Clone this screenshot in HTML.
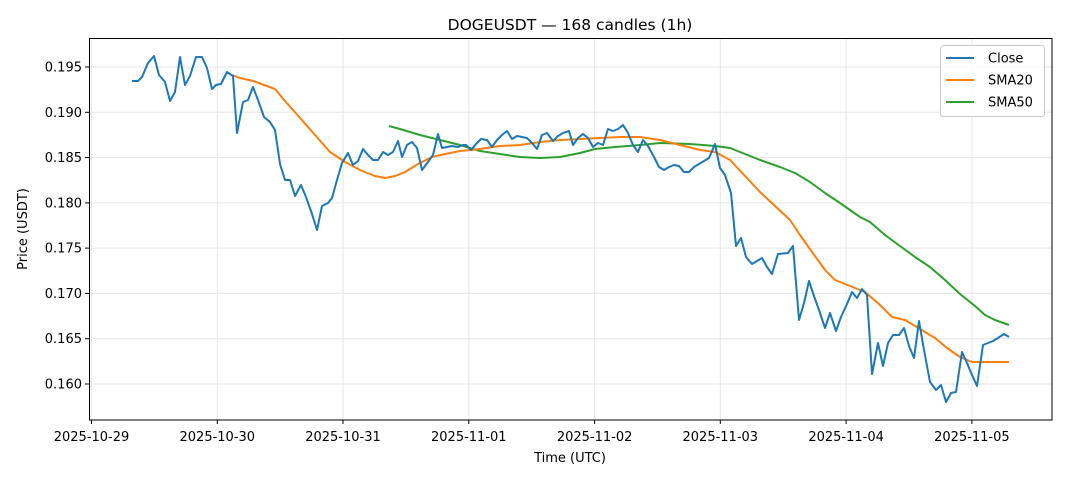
<!DOCTYPE html>
<html><head><meta charset="utf-8"><style>body{margin:0;background:#fff}svg{display:block}text{font-family:"DejaVu Sans","Liberation Sans",sans-serif;fill:#000}</style></head><body>
<svg width="1068" height="481" viewBox="0 0 1068 481" xmlns="http://www.w3.org/2000/svg">
<rect width="1068" height="481" fill="#fff"/>
<g stroke="#e6e6e6" stroke-width="1">
<line x1="91.5" y1="38" x2="91.5" y2="420"/><line x1="217.3" y1="38" x2="217.3" y2="420"/><line x1="343" y1="38" x2="343" y2="420"/><line x1="468.8" y1="38" x2="468.8" y2="420"/><line x1="594.6" y1="38" x2="594.6" y2="420"/><line x1="720.3" y1="38" x2="720.3" y2="420"/><line x1="846.1" y1="38" x2="846.1" y2="420"/><line x1="971.9" y1="38" x2="971.9" y2="420"/>
<line x1="89" y1="67" x2="1052" y2="67"/><line x1="89" y1="112.3" x2="1052" y2="112.3"/><line x1="89" y1="157.6" x2="1052" y2="157.6"/><line x1="89" y1="202.9" x2="1052" y2="202.9"/><line x1="89" y1="248.1" x2="1052" y2="248.1"/><line x1="89" y1="293.4" x2="1052" y2="293.4"/><line x1="89" y1="338.7" x2="1052" y2="338.7"/><line x1="89" y1="384" x2="1052" y2="384"/>
</g>
<g fill="none" stroke-width="2" stroke-linejoin="round">
<polyline stroke="#2ca02c" points="389,126 400,129 420,135 440,140 460,145 480,151 500,154 520,157 540,158 560,157 580,153 595,149 615,147 640,145 660,143 690,144 715,146 730,148 745,154 760,160 780,167 795,173 810,182 825,193 840,203 860,217 870,222 885,235 900,246 915,257 930,267 945,280 960,294 975,306 985,315 995,320 1009,325"/>
<polyline stroke="#ff7f0e" points="232,75 240,78 253,81 264,85 275,89 285,101 300,118 315,135 330,152 345,162 360,170 375,176 385,178 395,176 405,172 418,164 432,157 445,154 460,151 480,149 500,146 520,145 540,142 560,140 580,139 600,138 620,137 640,137 660,140 680,145 700,150 715,152 730,160 745,176 760,192 775,206 790,220 800,235 812,252 825,270 835,280 850,286 865,292 880,305 892,317 905,320 920,329 935,338 947,348 960,357 972,362 985,362 1009,362"/>
<polyline stroke="#1f77b4" points="132,81 138,81 142,77 148,63 154,56 159,75 165,82 170,101 175,92 180,57 185,85 190,76 196,57 202,57 207,68 212,89 216,85 221,84 227,72 233,76 237,133 243,102 248,100 253,87 258,100 264,117 270,122 275,130 280,164 285,180 290,180 295,196 301,185 306,197 312,214 317,230 322,206 328,203 332,198 337,180 342,163 348,153 353,165 358,161 363,149 368,155 373,160 378,160 383,152 388,155 393,152 398,141 402,157 407,145 412,142 417,148 422,170 428,162 433,155 438,134 442,148 447,147 452,146 458,147 463,145 466,145 471,150 476,144 481,139 487,140 492,147 497,140 502,135 507,131 512,139 517,136 522,137 527,138 532,143 537,149 542,135 547,133 553,141 558,136 563,133 569,131 573,145 578,138 583,134 588,138 593,147 598,143 603,145 608,129 613,131 618,129 623,125 628,133 633,145 638,152 643,140 648,146 654,157 659,167 664,170 669,167 674,165 679,166 684,172 689,172 694,167 699,164 704,161 709,158 715,144 720,168 725,175 731,193 736,246 741,238 746,257 752,264 762,258 767,267 772,274 778,254 788,253 793,246 799,320 804,303 809,281 815,299 819,310 825,328 830,313 836,331 841,317 847,304 852,292 857,298 862,289 867,295 872,374 878,343 883,366 888,343 893,335 899,335 904,328 909,346 914,358 919,321 924,350 930,382 936,390 941,385 946,402 951,393 956,392 962,352 967,363 972,375 977,386 983,345 988,343 993,341 998,338 1004,334 1009,337"/>
</g>
<rect x="89.5" y="38.5" width="962.5" height="381.5" fill="none" stroke="#000" stroke-width="1"/>
<g stroke="#000" stroke-width="1">
<line x1="91.5" y1="420" x2="91.5" y2="424"/><line x1="217.3" y1="420" x2="217.3" y2="424"/><line x1="343" y1="420" x2="343" y2="424"/><line x1="468.8" y1="420" x2="468.8" y2="424"/><line x1="594.6" y1="420" x2="594.6" y2="424"/><line x1="720.3" y1="420" x2="720.3" y2="424"/><line x1="846.1" y1="420" x2="846.1" y2="424"/><line x1="971.9" y1="420" x2="971.9" y2="424"/>
<line x1="85" y1="67" x2="89" y2="67"/><line x1="85" y1="112.3" x2="89" y2="112.3"/><line x1="85" y1="157.6" x2="89" y2="157.6"/><line x1="85" y1="202.9" x2="89" y2="202.9"/><line x1="85" y1="248.1" x2="89" y2="248.1"/><line x1="85" y1="293.4" x2="89" y2="293.4"/><line x1="85" y1="338.7" x2="89" y2="338.7"/><line x1="85" y1="384" x2="89" y2="384"/>
</g>
<g font-size="13" text-anchor="middle">
<text x="91.5" y="441">2025-10-29</text><text x="217.3" y="441">2025-10-30</text><text x="343" y="441">2025-10-31</text><text x="468.8" y="441">2025-11-01</text><text x="594.6" y="441">2025-11-02</text><text x="720.3" y="441">2025-11-03</text><text x="846.1" y="441">2025-11-04</text><text x="971.9" y="441">2025-11-05</text>
<text x="570" y="462">Time (UTC)</text>
<text x="570" y="30" font-size="15.5">DOGEUSDT — 168 candles (1h)</text>
</g>
<g font-size="13" text-anchor="end">
<text x="82" y="71.5">0.195</text><text x="82" y="116.8">0.190</text><text x="82" y="162.1">0.185</text><text x="82" y="207.4">0.180</text><text x="82" y="252.6">0.175</text><text x="82" y="297.9">0.170</text><text x="82" y="343.2">0.165</text><text x="82" y="388.5">0.160</text>
</g>
<text transform="translate(27,229) rotate(-90)" font-size="13" text-anchor="middle">Price (USDT)</text>
<rect x="940.5" y="45.5" width="104" height="71" rx="3" fill="#fff" fill-opacity="0.8" stroke="#ccc"/>
<g stroke-width="2"><line x1="946" y1="58" x2="974" y2="58" stroke="#1f77b4"/><line x1="946" y1="80" x2="974" y2="80" stroke="#ff7f0e"/><line x1="946" y1="102" x2="974" y2="102" stroke="#2ca02c"/></g>
<g font-size="13"><text x="988" y="62.5">Close</text><text x="988" y="84.5">SMA20</text><text x="988" y="106.5">SMA50</text></g>
</svg>
</body></html>
